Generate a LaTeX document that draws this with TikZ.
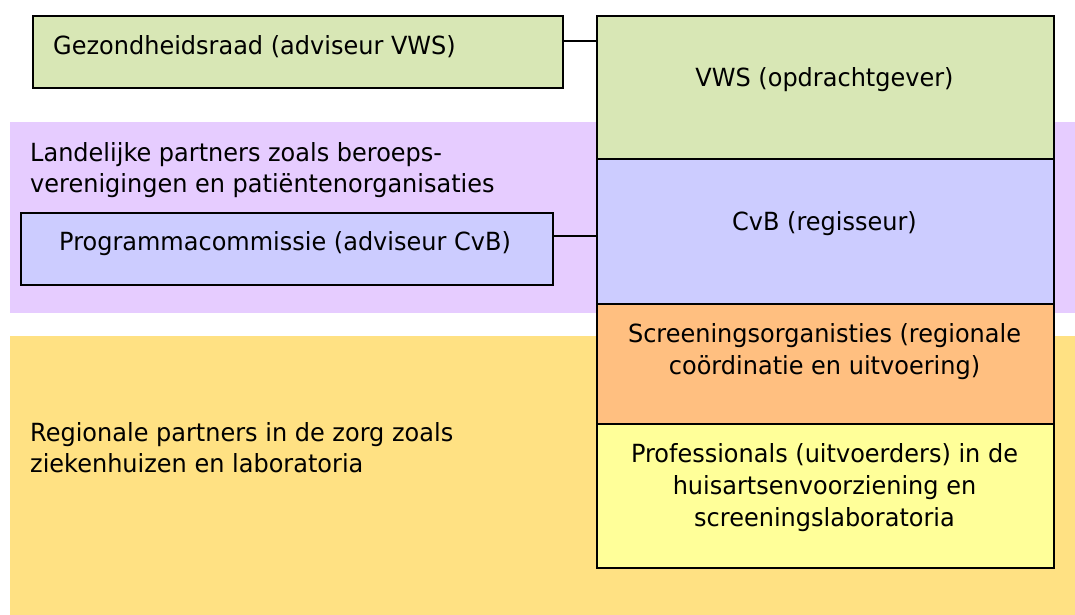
\documentclass[tikz,border=0pt]{standalone}
\usepackage{fontspec}
\setmainfont{DejaVu Sans}[FakeStretch=0.96]
\definecolor{cgreen}{HTML}{D8E7B5}
\definecolor{cpurple}{HTML}{E6CCFF}
\definecolor{cblue}{HTML}{CCCCFF}
\definecolor{corange}{HTML}{FFBF80}
\definecolor{clight}{HTML}{FFFF99}
\definecolor{cband}{HTML}{FFE183}
\begin{document}
\begin{tikzpicture}[x=1pt,y=-1pt,
  band/.style={fill=#1, draw=none},
  box/.style={draw=black, line width=2.2pt, fill=#1, inner sep=0pt, anchor=north west},
  lbl/.style={inner sep=0pt, font=\fontsize{25}{31}\selectfont},
  clbl/.style={inner sep=0pt, font=\fontsize{25}{32}\selectfont},
  conn/.style={draw=black, line width=2.2pt}]
\useasboundingbox (0,0) rectangle (1075,615);
\fill[white] (0,0) rectangle (1075,615);
% background bands
\fill[band=cpurple] (10,122) rectangle (1075,313);
\fill[band=cband] (10,336) rectangle (1075,615);
% left boxes
\node[box=cgreen, minimum width=530pt, minimum height=72pt] (gez) at (32,15) {};
\node[box=cblue, minimum width=532pt, minimum height=72pt] (prog) at (20,212) {};
% right column
\node[box=cgreen, minimum width=457pt, minimum height=143pt] (vws) at (596,15) {};
\node[box=cblue, minimum width=457pt, minimum height=145pt] (cvb) at (596,158) {};
\node[box=corange, minimum width=457pt, minimum height=120pt] (scr) at (596,303) {};
\node[box=clight, minimum width=457pt, minimum height=144pt] (prof) at (596,423) {};
% connectors
\draw[conn] ([yshift=11pt]gez.east) -- ([yshift=11pt]gez.east -| vws.west);
\draw[conn] ([yshift=13pt]prog.east) -- ([yshift=13pt]prog.east -| cvb.west);
% texts
\node[lbl, anchor=west] (tgez) at (53,47) {Gezondheidsraad (adviseur VWS)};
\node[lbl, anchor=west] (tprog) at (59,244) {Programmacommissie (adviseur CvB)};
\node[lbl, anchor=west, align=left] (tland) at (30,170) {Landelijke partners zoals beroeps-\\verenigingen en patiëntenorganisaties};
\node[lbl, anchor=west, align=left] (treg) at (30,448) {Regionale partners in de zorg zoals\\ziekenhuizen en laboratoria};
\node[clbl] (tvws) at (824.5,80) {VWS (opdrachtgever)};
\node[clbl] (tcvb) at (824.5,224) {CvB (regisseur)};
\node[clbl, align=center] (tscr) at (824.5,352) {Screeningsorganisties (regionale\\coördinatie en uitvoering)};
\node[clbl, align=center] (tprof) at (824.5,488) {Professionals (uitvoerders) in de\\huisartsenvoorziening en\\screeningslaboratoria};
\end{tikzpicture}
\end{document}
